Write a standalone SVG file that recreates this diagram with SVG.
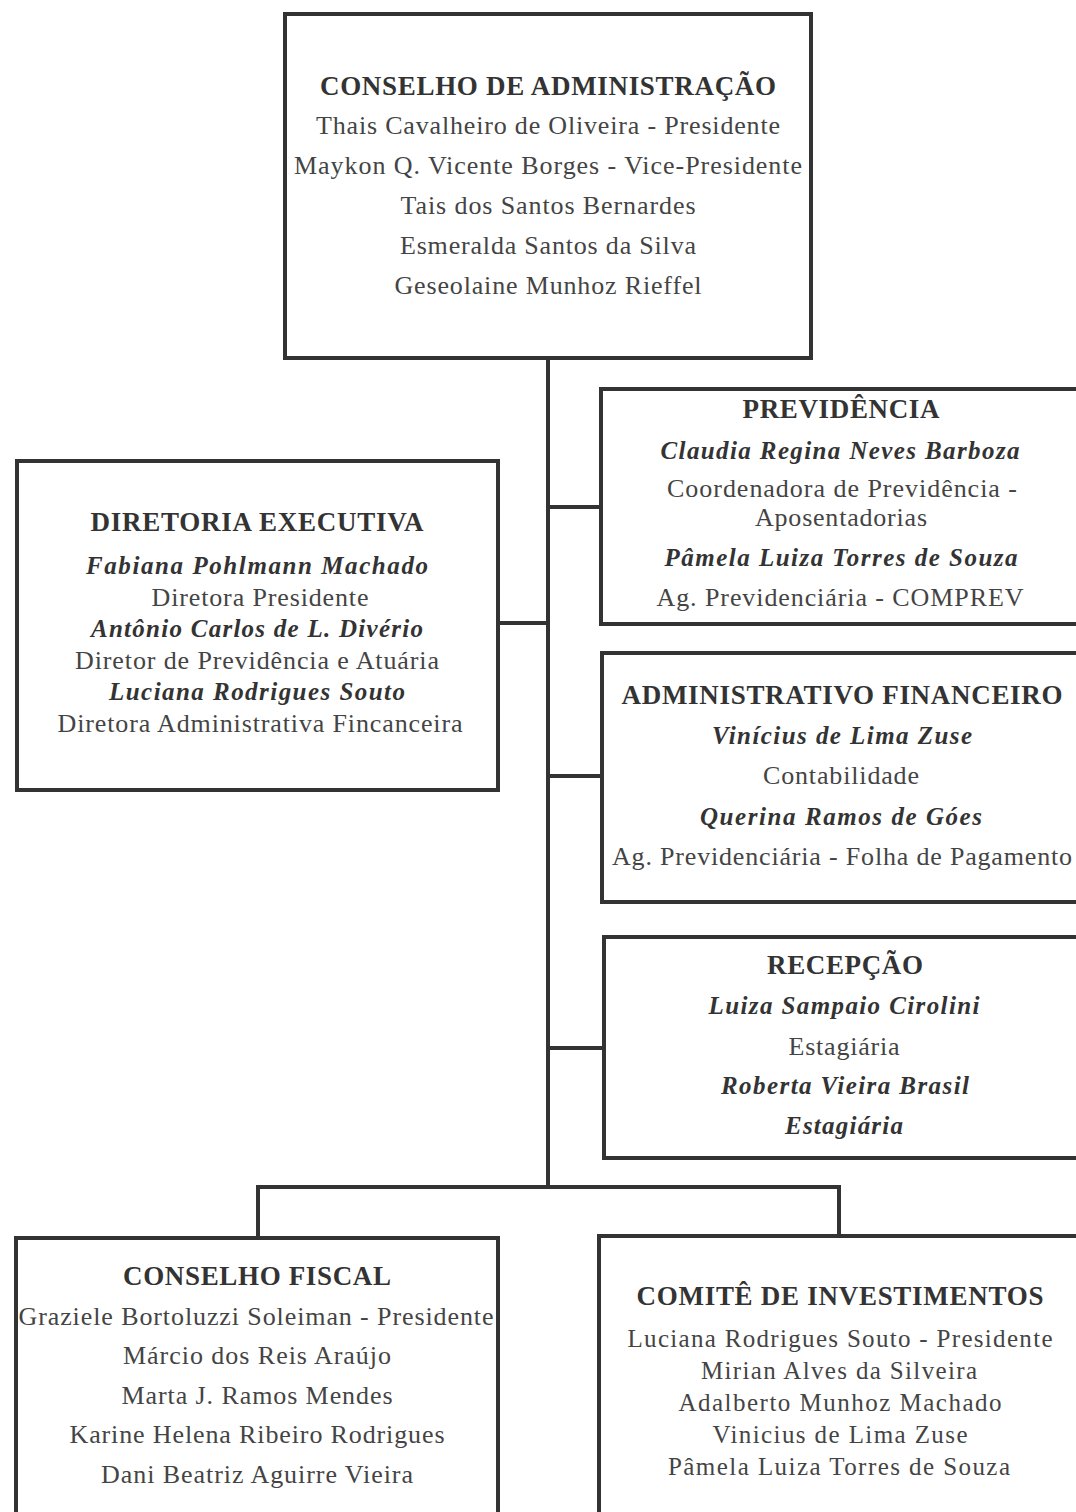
<svg xmlns="http://www.w3.org/2000/svg" width="1076" height="1512" viewBox="0 0 1076 1512">
<style>
.box{fill:#fff;stroke:#333;stroke-width:4}
.con{fill:none;stroke:#333;stroke-width:4}
text{font-family:"Liberation Serif","DejaVu Serif",serif;text-anchor:middle;fill:#444}
.t{font-weight:bold;font-size:27px;fill:#333}
.r{font-size:26px}
.s{font-size:25px}
.b{font-weight:bold;font-style:italic;font-size:25px;fill:#333}
</style>
<rect width="1076" height="1512" fill="#fff"/>
<g id="connectors">
<path class="con" d="M548 358V1187M498 623H548M548 507H601M548 776H602M548 1048H604M258 1237V1187H839V1236"/>
</g>
<g id="conselho-administracao">
<rect class="box" x="285" y="14" width="526" height="344"/>
<text class="t" x="548" y="95" textLength="456" lengthAdjust="spacing">CONSELHO DE ADMINISTRAÇÃO</text>
<text class="r" x="548" y="134" textLength="464" lengthAdjust="spacing">Thais Cavalheiro de Oliveira - Presidente</text>
<text class="r" x="548" y="174" textLength="508" lengthAdjust="spacing">Maykon Q. Vicente Borges - Vice-Presidente</text>
<text class="r" x="548" y="214" textLength="295" lengthAdjust="spacing">Tais dos Santos Bernardes</text>
<text class="r" x="548" y="254" textLength="296" lengthAdjust="spacing">Esmeralda Santos da Silva</text>
<text class="r" x="548" y="294" textLength="307" lengthAdjust="spacing">Geseolaine Munhoz Rieffel</text>
</g>
<g id="diretoria-executiva">
<rect class="box" x="17" y="461" width="481" height="329"/>
<text class="t" x="257" y="531" textLength="333" lengthAdjust="spacing">DIRETORIA EXECUTIVA</text>
<text class="b" x="257" y="574" textLength="342" lengthAdjust="spacing">Fabiana Pohlmann Machado</text>
<text class="r" x="260" y="606" textLength="217" lengthAdjust="spacing">Diretora Presidente</text>
<text class="b" x="257" y="637" textLength="332" lengthAdjust="spacing">Antônio Carlos de L. Divério</text>
<text class="r" x="257" y="669" textLength="364" lengthAdjust="spacing">Diretor de Previdência e Atuária</text>
<text class="b" x="257" y="700" textLength="296" lengthAdjust="spacing">Luciana Rodrigues Souto</text>
<text class="r" x="260" y="732" textLength="405" lengthAdjust="spacing">Diretora Administrativa Fincanceira</text>
</g>
<g id="previdencia">
<rect class="box" x="601" y="389" width="480" height="235"/>
<text class="t" x="841" y="418" textLength="197" lengthAdjust="spacing">PREVIDÊNCIA</text>
<text class="b" x="840" y="459" textLength="359" lengthAdjust="spacing">Claudia Regina Neves Barboza</text>
<text class="r" x="842" y="497" textLength="350" lengthAdjust="spacing">Coordenadora de Previdência -</text>
<text class="r" x="841" y="526" textLength="172" lengthAdjust="spacing">Aposentadorias</text>
<text class="b" x="841" y="566" textLength="353" lengthAdjust="spacing">Pâmela Luiza Torres de Souza</text>
<text class="r" x="840" y="606" textLength="367" lengthAdjust="spacing">Ag. Previdenciária - COMPREV</text>
</g>
<g id="administrativo-financeiro">
<rect class="box" x="602" y="653" width="480" height="249"/>
<text class="t" x="842" y="704" textLength="441" lengthAdjust="spacing">ADMINISTRATIVO FINANCEIRO</text>
<text class="b" x="842" y="744" textLength="260" lengthAdjust="spacing">Vinícius de Lima Zuse</text>
<text class="r" x="841" y="784" textLength="156" lengthAdjust="spacing">Contabilidade</text>
<text class="b" x="841" y="825" textLength="282" lengthAdjust="spacing">Querina Ramos de Góes</text>
<text class="r" x="842" y="865" textLength="460" lengthAdjust="spacing">Ag. Previdenciária - Folha de Pagamento</text>
</g>
<g id="recepcao">
<rect class="box" x="604" y="937" width="480" height="221"/>
<text class="t" x="845" y="974" textLength="156" lengthAdjust="spacing">RECEPÇÃO</text>
<text class="b" x="844" y="1014" textLength="271" lengthAdjust="spacing">Luiza Sampaio Cirolini</text>
<text class="r" x="844" y="1055" textLength="111" lengthAdjust="spacing">Estagiária</text>
<text class="b" x="845" y="1094" textLength="248" lengthAdjust="spacing">Roberta Vieira Brasil</text>
<text class="b" x="844" y="1134" textLength="118" lengthAdjust="spacing">Estagiária</text>
</g>
<g id="conselho-fiscal">
<rect class="box" x="16" y="1238" width="482" height="290"/>
<text class="t" x="257" y="1285" textLength="268" lengthAdjust="spacing">CONSELHO FISCAL</text>
<text class="r" x="256" y="1325" textLength="475" lengthAdjust="spacing">Graziele Bortoluzzi Soleiman - Presidente</text>
<text class="r" x="257" y="1364" textLength="268" lengthAdjust="spacing">Márcio dos Reis Araújo</text>
<text class="r" x="257" y="1404" textLength="271" lengthAdjust="spacing">Marta J. Ramos Mendes</text>
<text class="r" x="257" y="1443" textLength="375" lengthAdjust="spacing">Karine Helena Ribeiro Rodrigues</text>
<text class="r" x="257" y="1483" textLength="312" lengthAdjust="spacing">Dani Beatriz Aguirre Vieira</text>
</g>
<g id="comite-investimentos">
<rect class="box" x="599" y="1236" width="485" height="290"/>
<text class="t" x="840" y="1305" textLength="407" lengthAdjust="spacing">COMITÊ DE INVESTIMENTOS</text>
<text class="s" x="840" y="1347" textLength="425" lengthAdjust="spacing">Luciana Rodrigues Souto - Presidente</text>
<text class="s" x="839" y="1379" textLength="276" lengthAdjust="spacing">Mirian Alves da Silveira</text>
<text class="s" x="840" y="1411" textLength="323" lengthAdjust="spacing">Adalberto Munhoz Machado</text>
<text class="s" x="840" y="1443" textLength="255" lengthAdjust="spacing">Vinicius de Lima Zuse</text>
<text class="s" x="839" y="1475" textLength="342" lengthAdjust="spacing">Pâmela Luiza Torres de Souza</text>
</g>
</svg>
